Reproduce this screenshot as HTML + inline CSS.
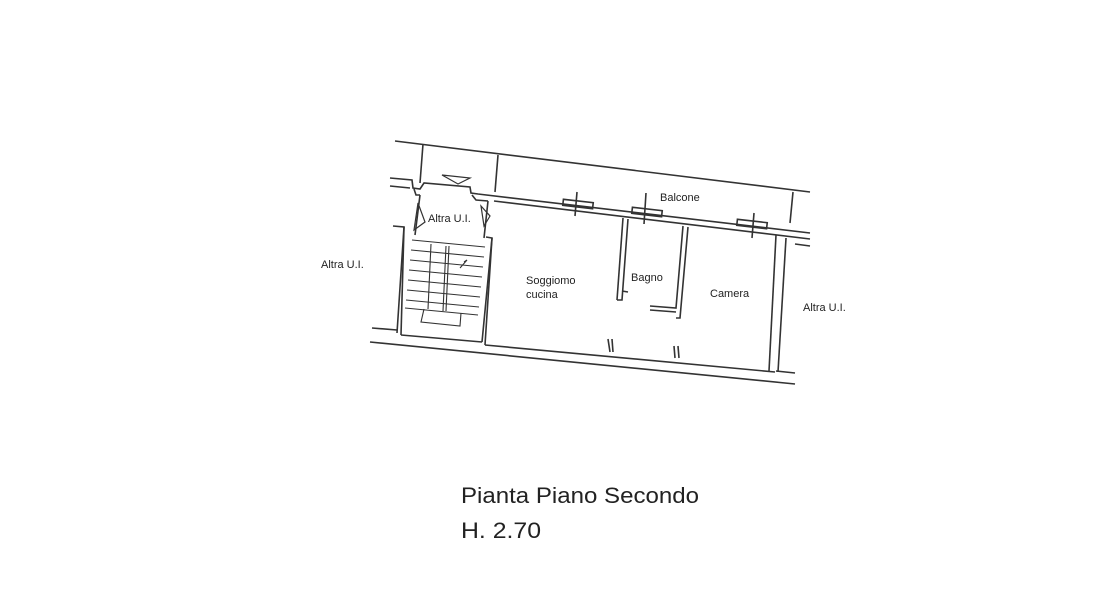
<!DOCTYPE html>
<html><head><meta charset="utf-8"><style>
html,body{margin:0;padding:0;background:#fff;width:1108px;height:591px;overflow:hidden}
svg{position:absolute;left:0;top:0}
text{font-family:"Liberation Sans",Arial,sans-serif;fill:#222}
</style></head><body>
<svg width="1108" height="591" viewBox="0 0 1108 591">
<g stroke="#333" stroke-width="1.6" fill="none">
<!-- balcony outer -->
<line x1="395" y1="141" x2="810" y2="192"/>
<line x1="423" y1="144" x2="420" y2="183"/>
<line x1="498" y1="155" x2="495" y2="192"/>
<line x1="793" y1="192" x2="790" y2="223"/>
<!-- top wall -->
<polyline points="390,178 412,180 413,188 420,189 424,183 470,187 471,193 478,194 810,233"/>
<polyline points="390,186 410,188"/>
<polyline points="414,189 416,195 420,195"/>
<polyline points="472,195 476,200 488,201"/>
<polyline points="494,201 810,239"/>
<polyline points="795,244 810,246"/>
<!-- stair walls -->
<polyline points="420,195 415,235"/>
<polyline points="488,201 484,238"/>
<polyline points="393,226 404,227 397,333"/>
<polyline points="404,227 401,335"/>
<polyline points="486,237 492,238 485,345"/>
<polyline points="492,238 482,342"/>
<!-- stairs -->
<g stroke-width="1.1">
<line x1="412" y1="240" x2="485" y2="247"/>
<line x1="411" y1="250" x2="484" y2="257"/>
<line x1="410" y1="260" x2="483" y2="267"/>
<line x1="409" y1="270" x2="482" y2="277"/>
<line x1="408" y1="280" x2="481" y2="287"/>
<line x1="407" y1="290" x2="480" y2="297"/>
<line x1="406" y1="300" x2="479" y2="307"/>
<line x1="405" y1="308" x2="478" y2="315"/>
<line x1="431" y1="244" x2="428" y2="309"/>
<line x1="446" y1="246" x2="443" y2="311"/>
<line x1="449" y1="246" x2="446" y2="311"/>
<polyline points="424,309 421,322 460,326 461,313"/>
<polyline points="460,268 467,260 464,262"/>
</g>
<!-- bottom wall -->
<line x1="372" y1="328" x2="397" y2="330"/>
<line x1="370" y1="342" x2="795" y2="384"/>
<line x1="401" y1="335" x2="482" y2="342"/>
<line x1="485" y1="345" x2="775" y2="372"/>
<line x1="776" y1="371" x2="795" y2="373"/>
<!-- bagno walls -->
<polyline points="623,218 617,300"/>
<polyline points="628,219 622,300 617,300"/>
<line x1="622" y1="291" x2="628" y2="292"/>
<polyline points="688,227 680,318 676,318"/>
<polyline points="683,226 676,308 650,306"/>
<line x1="676" y1="312" x2="650" y2="310"/>
<polyline points="608,339 610,352"/><polyline points="612,339 613,352"/>
<polyline points="674,346 675,358"/><polyline points="678,346 679,358"/>
<!-- camera right -->
<polyline points="776,235 769,371"/>
<polyline points="786,238 778,372"/>
<!-- windows -->
<rect x="563" y="201" width="30" height="6" transform="rotate(6.5 578 204)"/>
<rect x="632" y="209" width="30" height="6" transform="rotate(6.5 647 212)"/>
<rect x="737" y="221" width="30" height="6" transform="rotate(6.5 752 224)"/>
<line x1="577" y1="192" x2="575" y2="216"/>
<line x1="646" y1="193" x2="644" y2="224"/>
<line x1="754" y1="213" x2="752" y2="238"/>
<!-- door triangle -->
<polygon points="442,175 470,178 458,184" stroke-width="1.2"/>
<polygon points="418,203 425,222 414,230" stroke-width="1.2"/>
<polygon points="481,206 484,226 490,216" stroke-width="1.2"/>
</g>
<g font-size="11">
<text x="428" y="222">Altra U.I.</text>
<text x="321" y="268">Altra U.I.</text>
<text x="803" y="311">Altra U.I.</text>
<text x="660" y="201">Balcone</text>
<text x="526" y="284">Soggiomo</text>
<text x="526" y="298">cucina</text>
<text x="631" y="281">Bagno</text>
<text x="710" y="297">Camera</text>
</g>
<text x="461" y="503" font-size="22" textLength="238" lengthAdjust="spacingAndGlyphs">Pianta Piano Secondo</text>
<text x="461" y="538" font-size="22" textLength="80" lengthAdjust="spacingAndGlyphs">H. 2.70</text>
</svg>
</body></html>
